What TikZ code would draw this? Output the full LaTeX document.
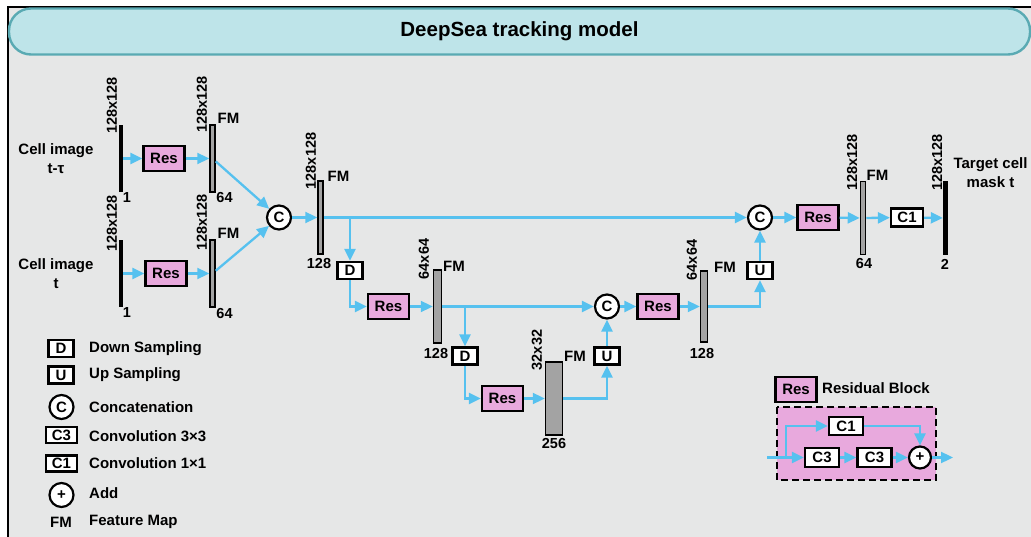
\documentclass[tikz,border=0pt]{standalone}
\usepackage{fontspec}
\setmainfont{Liberation Sans}
\usetikzlibrary{arrows.meta}
\definecolor{flowblue}{HTML}{56C1EF}
\definecolor{respink}{HTML}{E8A9DD}
\definecolor{bggray}{HTML}{E6E7E7}
\definecolor{bargray}{HTML}{A3A3A3}
\definecolor{bannerfill}{HTML}{BEE4E9}
\definecolor{bannerline}{HTML}{5AAAB3}
\tikzset{
  flow/.style={draw=flowblue, line width=2.3pt, -{Triangle[length=12pt,width=11pt]}},
  lbl/.style={font=\fontsize{15pt}{19pt}\selectfont\bfseries, inner sep=0pt},
  num/.style={font=\fontsize{14.5pt}{17pt}\selectfont\bfseries, inner sep=0pt},
  resbox/.style={lbl, draw=black, line width=2.2pt, fill=respink, minimum width=41pt, minimum height=25pt},
  opbox/.style={lbl, draw=black, line width=2.2pt, fill=white, minimum width=25pt, minimum height=17pt},
  convbox/.style={opbox, minimum width=32pt, minimum height=18pt},
  opcirc/.style={lbl, circle, draw=black, line width=2.2pt, fill=white, minimum size=24pt},
  inbar/.style={rectangle, fill=black, inner sep=0pt, minimum width=4.5pt},
  fmbar/.style={rectangle, fill=bargray, draw=black, line width=1.5pt, inner sep=0pt},
}
\begin{document}
\begin{tikzpicture}[x=1pt,y=-1pt]
  \useasboundingbox (0,0) rectangle (1031,537);
  % frame and title
  \fill[white] (0,0) rectangle (1031,537);
  \fill[bggray] (8,7) rectangle (1031,537);
  \draw[line width=2pt] (8,537) -- (8,7) -- (1031,7);
  \node[draw=bannerline, fill=bannerfill, line width=2.4pt, rounded corners=22pt,
        minimum width=1021pt, minimum height=46pt,
        font=\fontsize{20.5pt}{24pt}\selectfont\bfseries] (title) at (519.5,31.5)
        {DeepSea tracking model};

  % inputs
  \node[lbl, align=center] (cell1) at (56,158.5) {Cell image\\t-τ};
  \node[lbl, align=center] (cell2) at (56,273.5) {Cell image\\t};
  \node[inbar, minimum height=67pt] (in1) at (121,158.5) {};
  \node[inbar, minimum height=67pt] (in2) at (121,273.5) {};
  \node[resbox] (res1) at (164,158.5) {Res};
  \node[resbox] (res2) at (166,273.5) {Res};
  \node[fmbar, minimum width=5pt, minimum height=67pt] (fm1) at (212.5,158.5) {};
  \node[fmbar, minimum width=5pt, minimum height=67pt] (fm2) at (212.5,273.5) {};
  \node[opcirc] (cat1) at (279,217.5) {C};

  % encoder
  \node[fmbar, minimum width=5pt, minimum height=73pt] (fm3) at (320.5,217.5) {};
  \node[opbox] (down1) at (350,270.5) {D};
  \node[resbox] (res3) at (388.5,306.5) {Res};
  \node[fmbar, minimum width=8pt, minimum height=73pt] (fm4) at (437.5,306.5) {};
  \node[opbox] (down2) at (465,356) {D};
  \node[resbox] (res4) at (502.5,398.5) {Res};
  \node[fmbar, minimum width=17pt, minimum height=73pt] (fm5) at (554,398.5) {};

  % decoder
  \node[opbox] (up1) at (607,356) {U};
  \node[opcirc] (cat2) at (607,306.5) {C};
  \node[resbox] (res5) at (658,306.5) {Res};
  \node[fmbar, minimum width=7pt, minimum height=71pt] (fm6) at (704,306.5) {};
  \node[opbox] (up2) at (760,270.5) {U};
  \node[opcirc] (cat3) at (760,217.5) {C};
  \node[resbox] (res6) at (818,217.5) {Res};
  \node[fmbar, minimum width=5pt, minimum height=73pt] (fm7) at (863,218) {};
  \node[convbox] (conv1) at (907,217.5) {C1};
  \node[inbar, minimum width=5pt, minimum height=74pt] (out) at (945.5,218) {};
  \node[lbl, align=center] (target) at (990.5,173) {Target cell\\mask t};

  % sizes
  \node[num, rotate=90] at (112,105.5) {128x128};
  \node[num, rotate=90] at (202,104.5) {128x128};
  \node[num, rotate=90] at (112,223.5) {128x128};
  \node[num, rotate=90] at (202,222.5) {128x128};
  \node[num, rotate=90] at (311,161) {128x128};
  \node[num, rotate=90] at (424,259) {64x64};
  \node[num, rotate=90] at (537,350) {32x32};
  \node[num, rotate=90] at (692,260) {64x64};
  \node[num, rotate=90] at (852,162.5) {128x128};
  \node[num, rotate=90] at (937,162.5) {128x128};

  % channels
  \node[num] at (127,198) {1};
  \node[num] at (224.5,198) {64};
  \node[num] at (127,313) {1};
  \node[num] at (224.5,313.5) {64};
  \node[num] at (319,264) {128};
  \node[num] at (436,354) {128};
  \node[num] at (554,444) {256};
  \node[num] at (702,354) {128};
  \node[num] at (864,264) {64};
  \node[num] at (945,264) {2};

  % feature map marks
  \node[lbl] at (228.5,118) {FM};
  \node[lbl] at (228.5,233) {FM};
  \node[lbl] at (338.5,176) {FM};
  \node[lbl] at (454,266) {FM};
  \node[lbl] at (575,356) {FM};
  \node[lbl] at (725,267.5) {FM};
  \node[lbl] at (877.5,175) {FM};

  % connections
  \draw[flow] (in1) -- (res1);
  \draw[flow] (res1) -- (fm1);
  \draw[flow] (in2) -- (res2);
  \draw[flow] (res2) -- (fm2);
  \draw[flow] (fm1) -- (cat1);
  \draw[flow] (fm2) -- (cat1);
  \draw[flow] (cat1) -- (fm3);
  \draw[flow] (fm3) -- (cat3);
  \draw[flow] (down1 |- fm3) -- (down1);
  \draw[flow] (down1) |- (res3);
  \draw[flow] (res3) -- (fm4);
  \draw[flow] (fm4) -- (cat2);
  \draw[flow] (down2 |- fm4) -- (down2);
  \draw[flow] (down2) |- (res4);
  \draw[flow] (res4) -- (fm5);
  \draw[flow] (fm5) -| (up1);
  \draw[flow] (up1) -- (cat2);
  \draw[flow] (cat2) -- (res5);
  \draw[flow] (res5) -- (fm6);
  \draw[flow] (fm6) -| (up2);
  \draw[flow] (up2) -- (cat3);
  \draw[flow] (cat3) -- (res6);
  \draw[flow] (res6) -- (fm7);
  \draw[flow] (fm7) -- (conv1);
  \draw[flow] (conv1) -- (out);

  % legend
  \node[opbox] (keyd) at (61,348.5) {D};
  \node[opbox] (keyu) at (61,375) {U};
  \node[opcirc] (keyc) at (61.5,407) {C};
  \node[convbox, minimum width=31pt, minimum height=16pt] (keyc3) at (61.5,435) {C3};
  \node[convbox, minimum width=31pt, minimum height=16pt] (keyc1) at (61.5,463.5) {C1};
  \node[opcirc] (keyadd) at (61.5,495) {+};
  \node[lbl] (keyfm) at (61,522.5) {FM};
  \foreach \y/\t in {348.5/Down Sampling, 375/Up Sampling, 407/Concatenation,
                     436/Convolution 3×3, 463/Convolution 1×1, 493/Add, 522/Feature Map}
    \node[lbl, anchor=west] at (89,\y) {\t};

  % residual block
  \node[resbox] (keyres) at (796,389.5) {Res};
  \node[lbl, anchor=west] at (822,388) {Residual Block};
  \draw[fill=respink, line width=2.2pt, dash pattern=on 7pt off 4pt] (777,407) rectangle (936,480);
  \node[convbox, minimum width=34pt] (rc1) at (846,426) {C1};
  \node[convbox, minimum width=34pt, minimum height=19pt] (rc3a) at (822,457.5) {C3};
  \node[convbox, minimum width=34pt, minimum height=19pt] (rc3b) at (874.5,457.5) {C3};
  \node[opcirc, minimum size=22pt] (radd) at (920,457.5) {+};
  \coordinate (rin) at (767,457.5);
  \coordinate (rsplit) at (786,457.5);
  \coordinate (rout) at (953,457.5);
  \draw[flow] (rin) -- (rc3a);
  \draw[flow] (rsplit) |- (rc1);
  \draw[flow] (rc1) -| (radd);
  \draw[flow] (rc3a) -- (rc3b);
  \draw[flow] (rc3b) -- (radd);
  \draw[flow] (radd) -- (rout);
\end{tikzpicture}
\end{document}
